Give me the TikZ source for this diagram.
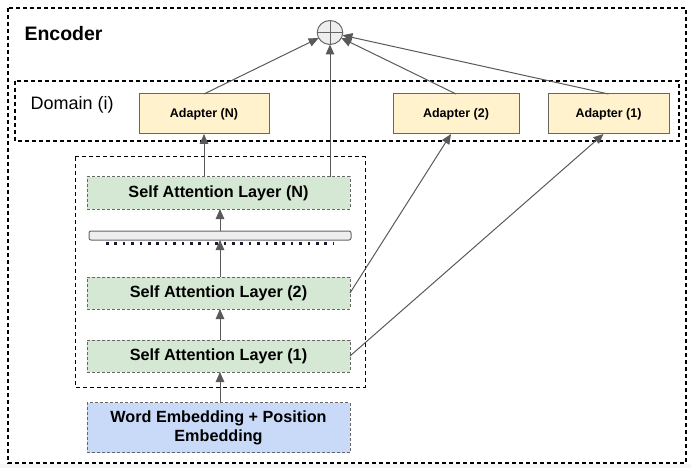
\documentclass[tikz,border=0pt]{standalone}
\usepackage{fontspec}
\setmainfont{Liberation Sans}
\usetikzlibrary{arrows.meta,shapes.geometric}
\definecolor{arrowgray}{HTML}{595959}
\definecolor{boxgray}{HTML}{666666}
\definecolor{adapterfill}{HTML}{FFF2CC}
\definecolor{layerfill}{HTML}{D5E8D4}
\definecolor{embedfill}{HTML}{C9DAF8}
\definecolor{barfill}{HTML}{EEEEEE}
\definecolor{dotcolor}{HTML}{1A1A33}
\begin{document}
\begin{tikzpicture}[x=1pt,y=-1pt,
  arr/.style={draw=arrowgray,line width=1pt,-{Triangle[length=10pt,width=8.5pt]}},
  groupbox/.style={draw=black,line width=1.2pt,dash pattern=on 4pt off 3pt},
  adapterbox/.style={draw=boxgray,fill=adapterfill,line width=1pt,minimum height=40pt,
    inner sep=0pt,outer sep=0pt,font=\fontsize{12.5}{14}\selectfont\bfseries},
  layerbox/.style={draw=boxgray,fill=layerfill,line width=1pt,dash pattern=on 3pt off 2pt,
    minimum width=263pt,minimum height=32pt,inner sep=0pt,outer sep=0pt,
    font=\fontsize{16.2}{19}\selectfont\bfseries},
  embedbox/.style={draw=boxgray,fill=embedfill,line width=1pt,dash pattern=on 3pt off 2pt,
    minimum width=263pt,minimum height=50pt,inner sep=0pt,outer sep=0pt,align=center,
    font=\fontsize{16.2}{19}\selectfont\bfseries},
  sumnode/.style={ellipse,draw=boxgray,fill=barfill,line width=1pt,minimum width=25.5pt,
    minimum height=24pt,inner sep=0pt,outer sep=0pt}
]
\useasboundingbox (0,0) rectangle (691,468);
\fill[gray!8] (0,464) rectangle (691,468);

% group boxes
\draw[groupbox] (8,8) rectangle (686,463);
\draw[groupbox] (15,81) rectangle (679,141);
\draw[groupbox,line width=1pt] (75,157) rectangle (365,387);

\node[anchor=west,font=\fontsize{19.5}{22}\selectfont\bfseries] (enc) at (21,34) {Encoder};
\node[anchor=west,font=\fontsize{18}{20}\selectfont] (dom) at (27,105) {Domain (i)};

% sum
\node[sumnode] (sum) at (330,32.5) {};
\draw[boxgray,line width=1pt] (sum.north) -- (sum.south) (sum.west) -- (sum.east);

% adapters
\node[adapterbox,minimum width=130pt] (an) at (204,114) {Adapter (N)};
\node[adapterbox,minimum width=126pt] (a2) at (456,114) {Adapter (2)};
\node[adapterbox,minimum width=121pt] (a1) at (608.5,114) {Adapter (1)};

% layers
\node[layerbox] (sn) at (218.5,193) {Self Attention Layer (N)};
\node[draw=boxgray,fill=barfill,line width=1pt,rounded corners=2pt,minimum width=262pt,
  minimum height=9pt,inner sep=0pt,outer sep=0pt] (bar) at (220,235.5) {};
\draw[dotcolor,line width=3pt,dash pattern=on 2.5pt off 5.9pt] (106,243.5) -- (334,243.5);
\node[layerbox] (s2) at (218.5,293) {Self Attention Layer (2)};
\node[layerbox] (s1) at (218.5,356) {Self Attention Layer (1)};
\node[embedbox] (we) at (218.5,427.5) {Word Embedding + Position\\Embedding};

% connectors
\draw[arr] (sn.north -| an.south) -- (an.south);
\draw[arr] (sn.north -| sum.south) -- (sum.south);
\draw[arr] (an.north) -- (sum);
\draw[arr] (a2.north) -- (sum);
\draw[arr] (a1.north) -- (sum);
\draw[arr] (bar.north) -- (sn.south -| bar.north);
\draw[arr] (s2.north -| bar.south) -- (bar.south);
\draw[arr] (s1.north -| bar.south) -- (s2.south -| bar.south);
\draw[arr] (we.north -| bar.south) -- (s1.south -| bar.south);
\draw[arr] (s2.east) -- ([xshift=-5pt]a2.south);
\draw[arr] (s1.east) -- ([xshift=-5pt]a1.south);
\end{tikzpicture}
\end{document}
